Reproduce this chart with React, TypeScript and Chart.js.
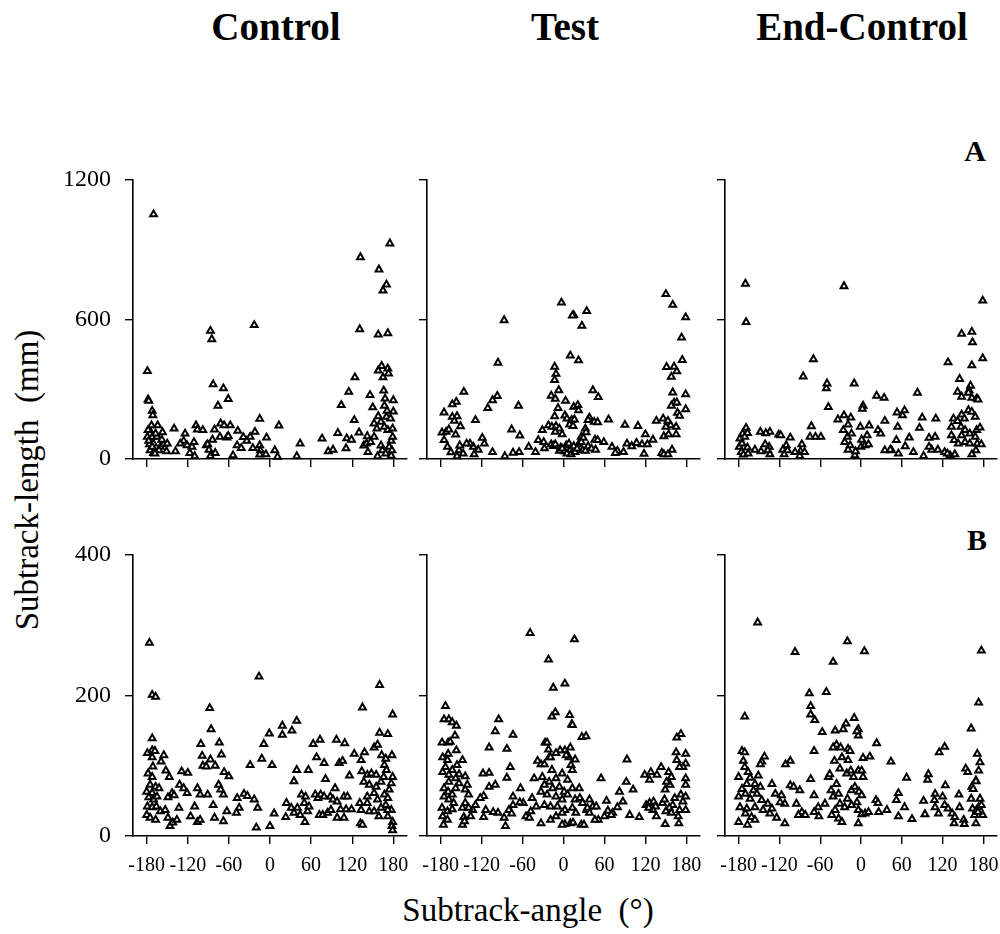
import React, { useEffect, useRef } from 'react';
import { Chart, registerables } from 'chart.js';

Chart.register(...registerables);

type P = [number, number];

const columnTitles = ['Control', 'Test', 'End-Control'];
const rowLetters = ['A', 'B'];
const xTickValues = [-180, -120, -60, 0, 60, 120, 180];
const yTicksA = [0, 600, 1200];
const yTicksB = [0, 200, 400];
const yLabel = 'Subtrack-length  (mm)';
const xLabel = 'Subtrack-angle  (°)';

const controlA: P[] = [
  [-170,1052],[-179,378],[-178,256],[-177,250],[-172,207],[-171,188],
  [-176,124],[-173,145],[-164,145],[-157,115],[-179,95],[-172,95],[-170,66],[-165,95],[-175,37],[-170,26],[-160,52],[-155,63],[-150,66],[-151,33],[-176,63],[-167,109],[-162,37],[-158,83],[-172,52],[-168,23],[-177,78],[-178,124],
  [-140,131],[-138,33],[-124,109],[-126,78],[-131,66],[-121,59],[-117,26],[-114,52],[-110,12],[-111,73],[-108,145],[-106,127],[-98,124],[-93,59],[-91,63],[-89,40],[-87,13],[-84,83],[-81,127],[-80,26],
  [-87,551],[-85,515],[-83,321],[-68,304],[-61,258],[-76,229],[-72,153],[-67,145],[-58,145],[-73,95],[-63,92],[-61,99],[-54,16],[-47,121],[-48,59],[-42,47],[-39,94],[-34,78],[-29,95],[-25,47],[-22,117],[-23,576],[-15,173],[-15,59],[-14,37],[-15,19],[-6,20],[-5,92],[7,37],[11,9],[13,144],[39,12],[44,66],
  [76,88],[85,33],[92,40],[99,112],[104,232],[111,46],[112,89],[115,289],[119,83],[123,167],[124,351],[130,114],[131,558],[132,868],[137,58],[141,66],[142,98],[143,30],[146,275],[147,73],[150,222],[152,153],[152,95],[156,131],[157,12],[158,535],[158,184],[158,380],[159,815],[162,160],[162,58],[163,400],[164,37],[165,351],[165,725],[166,294],[167,138],[167,229],[168,260],[169,23],[170,181],[170,750],[171,207],[172,541],[172,389],[172,124],[173,368],[174,52],[175,927],[176,174],[177,78],[177,14],[178,37],[179,131],[180,253],[180,204],[179,95]
];

const testA: P[] = [
  [150,709],[160,663],[179,609],[173,522],[174,426],[151,396],[162,397],[166,377],[158,354],[160,286],[179,278],[179,214],[162,242],[158,229],[166,243],[167,199],[170,186],[146,174],[136,164],[153,164],[157,145],[150,138],[147,98],[154,106],[165,138],[165,106],[144,26],[147,20],[153,20],[159,40],
  [131,83],[120,106],[109,142],[115,63],[118,22],[123,63],[90,147],[93,66],[100,55],[107,69],[79,35],[76,26],[88,30],[71,52],[66,170],[59,73],[51,266],[43,296],[34,636],[27,573],[22,424],[10,445],[15,619],[13,617],[-3,673],[-13,397],[-11,366],[-13,340],[-7,296],[-18,272],[-12,259],[3,250],[-8,219],[-13,184],[2,187],[15,224],[21,232],[22,209],[38,178],[45,160],[50,158],[5,174],[12,168],[16,170],[9,148],[14,142],[-22,145],[-17,138],[-11,141],[-6,131],[-31,124],[-12,117],[-2,106],[32,131],[33,115],[36,167],[26,95],[29,91],[46,83],[50,81],
  [-37,81],[-29,73],[-28,46],[-18,63],[-15,56],[-12,63],[-4,49],[1,33],[4,59],[8,66],[10,40],[5,23],[11,20],[17,30],[22,63],[26,73],[28,37],[32,35],[36,55],[41,45],[47,40],[-6,35],[-2,45],[15,55],[20,45],
  [-51,52],[-41,30],[-74,27],[-65,30],[-76,127],[-64,101],[-66,229],[-86,12],[-87,597],[-96,414],[-97,271],[-104,253],[-111,219],[-104,30],[-116,66],[-119,91],[-129,167],[-125,40],[-131,20],[-132,52],[-137,66],[-142,66],[-146,289],[-151,141],[-156,184],[-157,246],[-163,235],[-163,181],[-160,164],[-175,200],[-178,114],[-172,117],[-168,127],[-158,105],[-175,81],[-170,52],[-165,29],[-156,12],[-153,37],[-152,58],[-147,23]
];

const endA: P[] = [
  [-170,754],[-169,589],[-25,743],[179,681],[148,538],[163,547],[164,502],[163,403],[179,433],[128,416],[145,344],[142,289],[161,315],[159,296],[148,268],[158,285],[163,263],[170,260],[172,256],[148,191],[158,210],[163,203],[136,174],[142,163],[152,174],[168,181],
  [147,138],[133,138],[153,124],[160,109],[170,124],[175,135],[168,95],[148,102],[133,102],[137,81],[143,66],[153,73],[160,66],[171,66],[169,37],[177,63],[163,20],[123,30],[131,16],[138,20],[127,23],
  [110,174],[109,95],[100,91],[104,40],[113,40],[100,52],[90,178],[86,134],[83,285],[92,13],[77,30],[71,92],[65,55],[61,188],[64,209],[53,200],[54,138],[55,23],[52,81],[45,37],[35,164],[34,263],[23,272],[25,124],[29,109],[35,37],[43,40],
  [3,229],[2,216],[-1,138],[1,83],[0,52],[6,59],[11,63],[12,144],[9,102],
  [-10,325],[-15,178],[-19,148],[-25,188],[-26,124],[-24,73],[-20,95],[-16,59],[-14,109],[-19,40],[-9,16],[-8,33],
  [-34,170],[-48,223],[-51,304],[-50,325],[-70,429],[-85,355],[-73,141],[-75,95],[-67,95],[-59,95],[-87,63],[-89,33],[-90,13],[-83,30],[-97,30],[-104,92],[-110,59],[-115,40],[-108,37],[-113,20],[-121,105],[-118,102],[-134,117],[-140,111],[-148,117],[-135,52],[-137,37],[-141,63],[-134,20],[-147,33],[-156,40],[-169,134],[-174,109],[-178,88],[-167,112],[-171,95],[-179,52],[-176,30],[-173,19],[-167,49],[-166,23],[-175,66]
];

const controlB: P[] = [
  [-176,275],[-172,201],[-167,198],[-16,227],[160,215],[135,183],[179,173],[-88,182],[-86,152],[-172,139],[-179,118],[-172,122],[-168,121],[-172,112],[-155,115],[-159,106],[-171,99],[-152,93],[-147,84],[-178,89],[-172,84],[-175,73],[-167,70],[-162,68],[-180,63],[-172,61],[-177,55],[-170,52],[-165,56],[-179,42],[-172,41],[-166,42],[-180,30],[-175,26],[-167,23],[-160,35],[-153,37],[-149,55],[-143,61],[-140,58],[-149,26],[-146,14],[-142,19],[-136,23],[-133,40],[-132,73],[-126,68],[-129,92],[-120,90],[-121,61],[-116,28],[-110,42],[-106,20],[-102,23],[-106,68],[-102,59],[-101,131],[-99,114],[-98,100],[-93,99],[-91,59],[-87,109],[-80,100],[-74,133],[-71,116],[-67,91],[-60,85],[-83,44],[-81,26],[-75,73],[-72,66],[-68,59],[-68,21],[-63,35],[-48,54],[-45,40],[-49,33],[-38,60],[-33,57],[-29,101],[-23,52],[-18,40],[-20,12],[-12,110],[-9,131],[-1,146],[3,101],[0,14],[6,32],[18,157],[18,144],[32,150],[39,164],[39,94],[35,78],[56,94],[24,47],[23,27],[31,40],[35,33],[40,40],[44,30],[46,59],[50,47],[51,20],[52,56],[55,35],[57,42],[63,131],[73,137],[68,112],[79,104],[81,81],[95,68],[97,137],[109,132],[101,104],[106,107],[116,86],[108,56],[113,56],[66,59],[70,54],[74,59],[79,56],[88,56],[92,52],[98,49],[72,30],[77,30],[84,33],[89,37],[98,26],[108,26],[103,38],[111,38],[119,38],[123,117],[133,108],[138,119],[134,92],[137,77],[131,47],[133,37],[132,18],[135,16],[142,87],[148,89],[155,87],[152,126],[157,130],[160,147],[172,145],[178,115],[163,115],[169,110],[167,101],[170,94],[166,84],[179,84],[177,75],[174,66],[162,77],[155,70],[145,73],[142,56],[152,61],[157,52],[167,59],[172,54],[169,44],[162,40],[177,37],[145,35],[152,35],[159,28],[172,28],[179,20],[178,14],[179,8],[142,47],[172,37]
];

const testB: P[] = [
  [-49,289],[16,280],[-22,251],[-15,211],[2,217],[-173,185],[-175,166],[-168,166],[-163,162],[-157,157],[-95,166],[-100,149],[-74,144],[-17,170],[-12,176],[9,172],[12,159],[13,158],[27,141],[33,142],[172,145],[166,140],[165,119],[179,117],[166,108],[179,103],[175,98],[179,82],[179,73],[170,98],[172,59],[179,56],[175,49],[170,37],[179,37],[168,28],[149,17],[169,18],[163,54],
  [160,44],[155,40],[158,33],[150,35],[145,47],[148,52],[156,73],[158,84],[154,91],[143,98],[149,66],[151,77],
  [137,87],[128,91],[119,87],[126,80],[93,109],[92,77],[102,66],[82,63],[87,49],[79,41],[72,33],[65,36],[63,50],[55,82],[70,30],[60,28],[51,23],[46,23],[43,42],[38,52],[48,42],[34,37],[26,16],[30,16],[10,18],[14,19],[2,17],[-2,16],
  [121,44],[126,47],[132,49],[135,42],[136,28],[131,37],[125,40],[111,27],[97,30],
  [10,126],[2,122],[-5,122],[17,109],[8,112],[4,115],[11,101],[13,94],[-11,118],[-21,112],[-27,133],[-24,133],[-22,123],[-38,107],[-33,102],[-28,102],[-19,112],[-17,94],[-31,84],[-43,82],[-21,77],[-11,82],[-2,89],[6,80],[-6,70],[-16,68],[1,63],[13,68],[23,68],[-28,73],[-33,63],[-24,59],[-11,56],[-2,52],[6,59],[17,52],[24,54],[13,40],[2,37],[-9,42],[-19,42],[-28,44],[-40,42],[-46,54],[-48,35],[-55,28],[-50,26],[-33,18],[-19,23],[-11,28],[-2,33],[18,33],[28,47],[35,40],[38,33],
  [-59,47],[-64,48],[-74,56],[-63,68],[-78,98],[-83,83],[-83,124],[-74,44],[-80,37],[-76,32],[-87,26],[-85,14],[-96,33],[-103,34],[-109,70],[-100,73],[-109,126],[-118,89],[-109,90],[-117,57],[-122,54],[-114,37],[-117,27],[-129,44],[-133,37],[-136,28],[-139,40],[-144,47],[-148,40],[-146,27],[-148,16],[-145,21],
  [-148,108],[-156,101],[-153,88],[-144,85],[-141,73],[-144,66],[-139,59],[-157,122],[-159,143],[-169,133],[-166,134],[-178,133],[-177,112],[-169,117],[-170,108],[-177,91],[-173,98],[-168,87],[-163,94],[-175,68],[-169,63],[-163,59],[-158,68],[-175,56],[-168,52],[-161,47],[-178,40],[-170,35],[-163,38],[-177,28],[-170,23],[-176,16],[-168,77],[-158,82],[-153,75]
];

const endB: P[] = [
  [-152,304],[-20,277],[5,263],[-97,262],[177,264],[-41,248],[-76,203],[-51,205],[-74,185],[-74,173],[-68,165],[173,190],[-171,170],[-10,168],[-22,160],[-26,152],[-38,150],[-57,148],[-4,152],[-4,143],[-6,149],[162,153],[123,127],[115,119],[23,132],[-69,121],[-36,130],[-41,126],[-30,126],[-19,124],[-16,121],[3,111],[13,113],[44,106],[-28,112],[-39,107],[-19,108],[-142,113],[-146,106],[-148,102],[-175,121],[-171,119],[-173,107],[-111,102],[-104,107],[-171,98],[-180,84],[-166,91],[-151,86],
  [-163,83],[-168,74],[-156,74],[-148,70],[-158,65],[-175,67],[-170,60],[-180,56],[-163,53],[-153,60],[-146,51],[-137,46],[-178,41],[-168,39],[-156,41],[-144,37],[-134,32],[-170,32],[-161,27],[-180,20],[-167,16],[-156,23],[-124,26],[-112,18],[-131,39],[-126,60],[-131,74],[-117,58],[-112,46],[-119,48],[-104,72],[-99,70],[-95,46],[-90,65],[-87,34],[-92,30],[-82,30],[-74,81],[-69,58],[-63,41],[-69,34],[-62,28],[-53,46],[-48,84],[-46,88],[-44,65],[-41,56],[-36,74],[-33,60],[-31,46],[-38,37],[-43,30],[-33,25],[-28,20],[-24,41],[-20,53],[-14,65],[-9,70],[-3,63],[1,58],[-6,48],[-14,44],[-4,37],[1,31],[-4,18],[6,32],[11,34],[-31,96],[-21,89],[-15,93],[-4,93],[1,93],[-11,84],[3,84],
  [22,51],[25,47],[26,34],[38,37],[55,61],[52,51],[55,28],[64,41],[67,83],[75,24],[92,50],[94,31],[99,88],[98,80],[109,60],[109,41],[114,32],[108,51],[124,72],[120,56],[123,44],[128,39],[134,32],[137,18],[138,27],[144,59],[145,41],[151,23],[152,17],[154,96],[157,91],[163,70],[165,67],[162,53],[164,39],[170,37],[173,41],[177,44],[175,53],[169,79],[173,93],[175,105],[171,117],[169,78],[169,18],[179,30],[167,30],[172,34]
];

// layout (page pixels of each plot area)
const COLS = [
  { L: 133, R: 407 },
  { L: 427, R: 700 },
  { L: 725, R: 997 },
];
const ROWS = [
  { T: 180, B: 459, max: 1200, ticks: yTicksA },
  { T: 555, B: 836, max: 400, ticks: yTicksB },
];
const YW = 100;
const PT = 40;
const PR = 24;
const XH = 50;
const FONT = '"Liberation Serif", "Times New Roman", serif';

function Panel(props: { data: P[]; col: number; row: number }) {
  const { data, col, row } = props;
  const ref = useRef<HTMLCanvasElement>(null);
  const c = COLS[col];
  const r = ROWS[row];
  const w = c.R - c.L + YW + PR;
  const h = r.B - r.T + PT + XH;
  const showY = col === 0;
  const showX = row === 1;

  useEffect(() => {
    if (!ref.current) return;
    const gridOpts = {
      drawOnChartArea: false,
      drawTicks: true,
      tickLength: 8,
      color: '#000',
      lineWidth: 1.4,
    };
    const borderOpts = { display: true, color: '#000', width: 1.6 };
    const chart = new Chart(ref.current, {
      type: 'scatter',
      data: {
        datasets: [
          {
            data: data.map(([x, y]) => ({ x, y })),
            pointStyle: 'triangle',
            pointRadius: 3.9,
            pointHoverRadius: 3.9,
            pointBorderWidth: 2,
            pointBorderColor: '#000',
            pointBackgroundColor: '#fff',
            clip: false as any,
          },
        ],
      },
      options: {
        animation: false,
        responsive: false,
        maintainAspectRatio: false,
        events: [],
        layout: { padding: { left: 0, top: PT, right: PR, bottom: 0 } },
        plugins: { legend: { display: false }, tooltip: { enabled: false } },
        scales: {
          x: {
            type: 'linear',
            min: -200,
            max: 200,
            afterBuildTicks: (s: any) => {
              s.ticks = xTickValues.map((v) => ({ value: v }));
            },
            afterFit: (s: any) => {
              s.height = XH;
            },
            grid: gridOpts,
            border: borderOpts,
            ticks: {
              autoSkip: false,
              maxRotation: 0,
              padding: 10,
              color: '#000',
              font: { family: FONT, size: 20 },
              callback: (v: any) => (showX ? String(v) : ''),
            },
          },
          y: {
            type: 'linear',
            min: 0,
            max: r.max,
            afterBuildTicks: (s: any) => {
              s.ticks = r.ticks.map((v) => ({ value: v }));
            },
            afterFit: (s: any) => {
              s.width = YW;
            },
            grid: gridOpts,
            border: borderOpts,
            ticks: {
              padding: 14,
              color: '#000',
              font: { family: FONT, size: 24 },
              callback: (v: any) => (showY ? String(v) : ''),
            },
          },
        },
      } as any,
    });
    return () => chart.destroy();
  }, []);

  return (
    <canvas
      ref={ref}
      width={w}
      height={h}
      style={{ position: 'absolute', left: c.L - YW, top: r.T - PT, width: w, height: h }}
    />
  );
}

const panelData: P[][][] = [
  [controlA, testA, endA],
  [controlB, testB, endB],
];

const titleCenters = [276, 565, 862];

export default function App() {
  return (
    <div
      style={{
        position: 'absolute',
        left: 0,
        top: 0,
        width: 1000,
        height: 934,
        overflow: 'hidden',
        background: '#fff',
        fontFamily: FONT,
        color: '#000',
      }}
    >
      {columnTitles.map((t, i) => (
        <div
          key={t}
          style={{
            position: 'absolute',
            left: titleCenters[i] - 150,
            width: 300,
            top: 4,
            textAlign: 'center',
            fontWeight: 'bold',
            fontSize: 39,
            lineHeight: '46px',
          }}
        >
          {t}
        </div>
      ))}
      <div style={{ position: 'absolute', left: 950, width: 50, top: 133, textAlign: 'center', fontWeight: 'bold', fontSize: 30, lineHeight: '36px' }}>
        {rowLetters[0]}
      </div>
      <div style={{ position: 'absolute', left: 952, width: 50, top: 522, textAlign: 'center', fontWeight: 'bold', fontSize: 30, lineHeight: '36px' }}>
        {rowLetters[1]}
      </div>
      <div
        style={{
          position: 'absolute',
          left: 27 - 200,
          top: 480 - 20,
          width: 400,
          height: 40,
          lineHeight: '40px',
          textAlign: 'center',
          fontSize: 33,
          whiteSpace: 'pre',
          transform: 'rotate(-90deg)',
        }}
      >
        {yLabel}
      </div>
      <div
        style={{
          position: 'absolute',
          left: 528 - 200,
          top: 910 - 20,
          width: 400,
          height: 40,
          lineHeight: '40px',
          textAlign: 'center',
          fontSize: 33,
          whiteSpace: 'pre',
        }}
      >
        {xLabel}
      </div>
      {panelData.map((rowData, ri) =>
        rowData.map((d, ci) => <Panel key={`${ri}-${ci}`} data={d} col={ci} row={ri} />)
      )}
    </div>
  );
}
